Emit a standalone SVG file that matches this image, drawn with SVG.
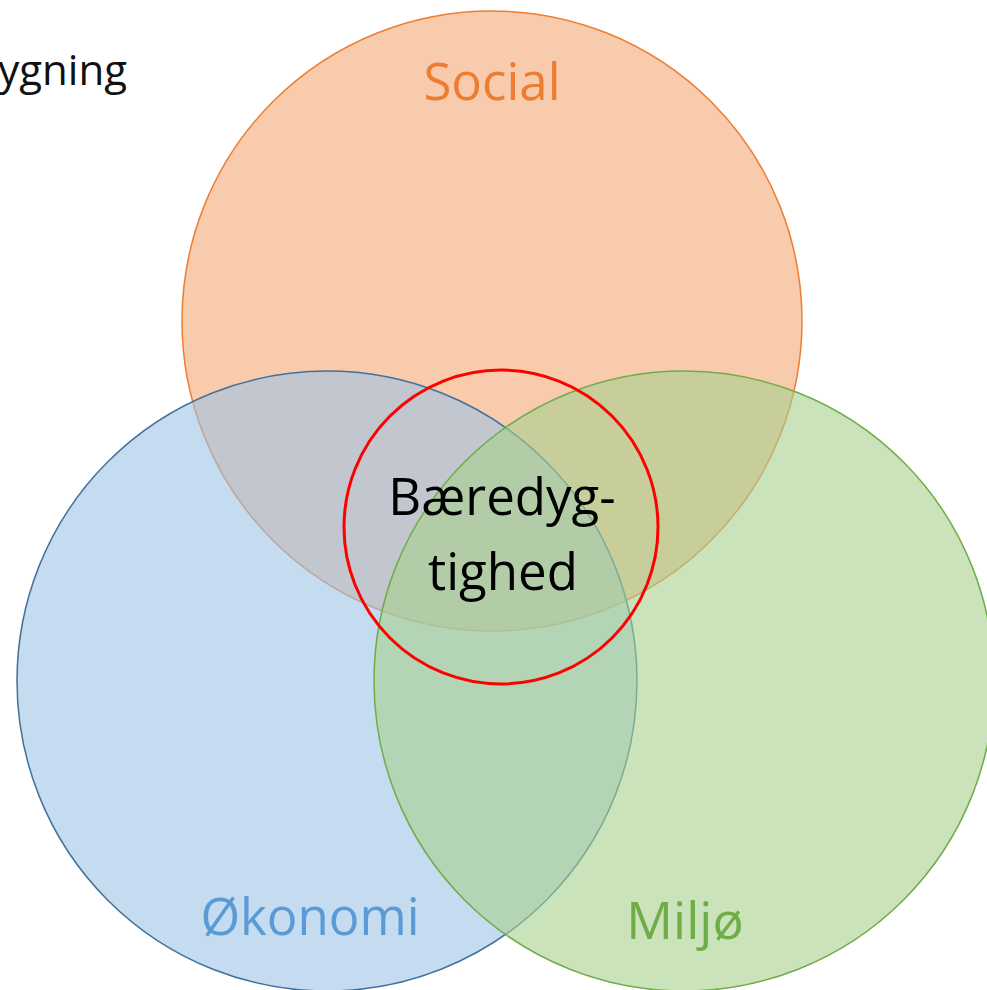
<svg xmlns="http://www.w3.org/2000/svg" width="987" height="990" viewBox="0 0 987 990">
<style>
.lbl{font-family:"Open Sans","Noto Sans","Liberation Sans",sans-serif;text-anchor:middle}
</style>
<rect width="987" height="990" fill="#ffffff"/>
<text x="127" y="85" font-family="'Open Sans','Noto Sans',sans-serif" font-size="42" text-anchor="end" fill="#111111">ygning</text>
<g id="social">
<circle cx="492" cy="321" r="310" fill="#F8CBAD" stroke="#ED7D31" stroke-width="1.5"/>
</g>
<g id="okonomi">
<circle cx="327" cy="681" r="310" fill="#9DC3E6" fill-opacity="0.6" stroke="#41719C" stroke-width="1.5"/>
</g>
<g id="miljo">
<circle cx="684" cy="681" r="310" fill="#A9D18E" fill-opacity="0.6" stroke="#70AD47" stroke-width="1.5"/>
</g>
<g id="baeredygtighed">
<circle cx="501" cy="527" r="157" fill="none" stroke="#FF0000" stroke-width="3"/>
<text class="lbl" x="502" y="515" font-size="51" fill="#000000">Bæredyg-</text>
<text class="lbl" x="503" y="590" font-size="51" fill="#000000">tighed</text>
</g>
<g id="labels">
<text class="lbl" x="492" y="100" font-size="51" fill="#ED7D31">Social</text>
<text class="lbl" x="310" y="935" font-size="51" fill="#5B9BD5">Økonomi</text>
<text class="lbl" x="685" y="939" font-size="52" fill="#70AD47">Miljø</text>
</g>
<g id="connectors"/>
</svg>
